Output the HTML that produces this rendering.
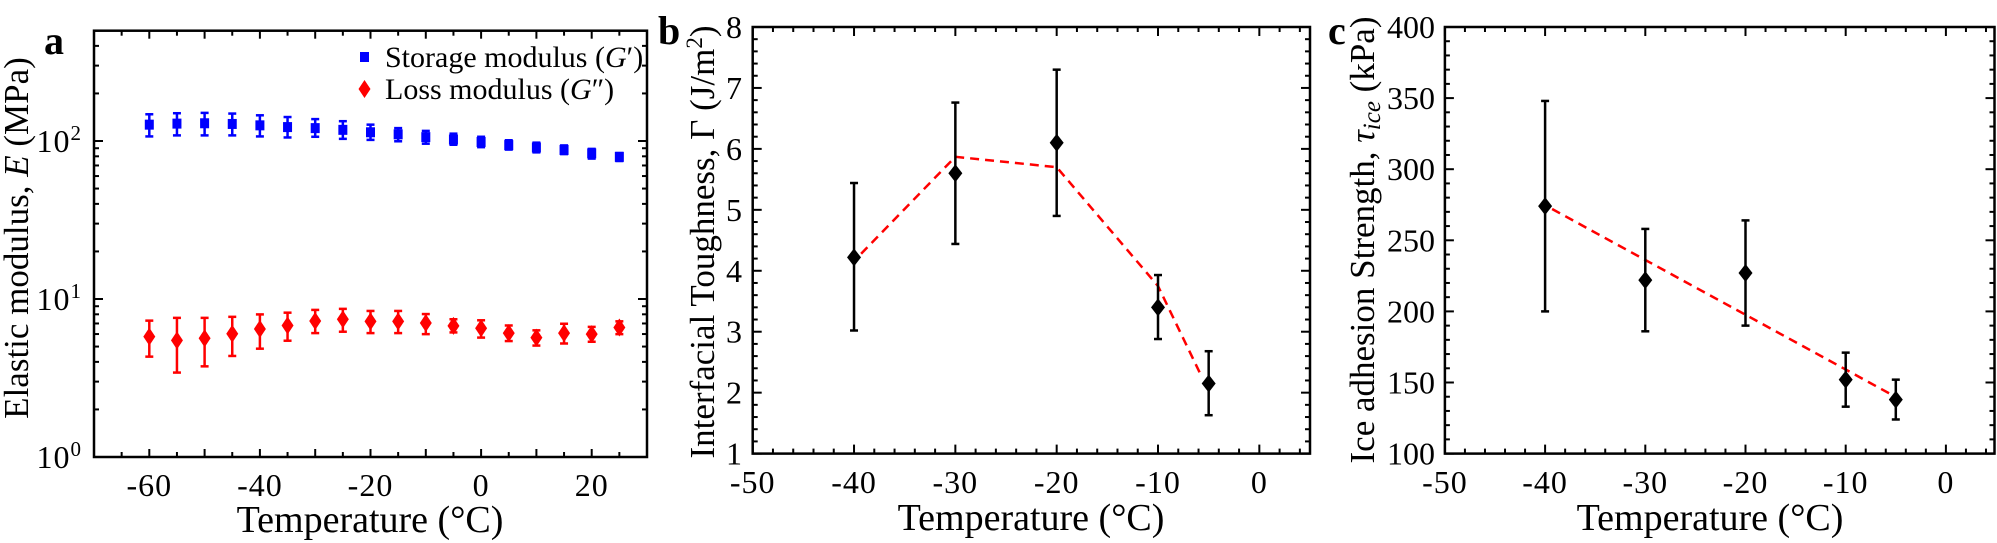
<!DOCTYPE html>
<html><head><meta charset="utf-8"><style>
html,body{margin:0;padding:0;background:#fff;}
svg{display:block;font-family:"Liberation Serif",serif;}
</style></head><body>
<svg id="s" width="1997" height="543" xmlns="http://www.w3.org/2000/svg"></svg>
<script>
var s=document.getElementById('s'),out='';
function ln(x1,y1,x2,y2,c,w,extra){out+='<line x1="'+x1+'" y1="'+y1+'" x2="'+x2+'" y2="'+y2+'" stroke="'+(c||'#000')+'" stroke-width="'+(w||2)+'" '+(extra||'')+'/>';}
function tx(x,y,t,sz,anc,extra){out+='<text x="'+x+'" y="'+y+'" font-size="'+sz+'" text-anchor="'+(anc||'middle')+'" '+(extra||'')+'>'+t+'</text>';}
function dia(x,y,w,h,c){out+='<polygon points="'+x+','+(y-h/2)+' '+(x+w/2)+','+y+' '+x+','+(y+h/2)+' '+(x-w/2)+','+y+'" fill="'+c+'"/>';}
function ebar(x,y1,y2,c,cap){ln(x,y1,x,y2,c,2.5);ln(x-cap,y1,x+cap,y1,c,2.5);ln(x-cap,y2,x+cap,y2,c,2.5);}
function box(L,T,R,B){out+='<rect x="'+L+'" y="'+T+'" width="'+(R-L)+'" height="'+(B-T)+'" fill="none" stroke="#000" stroke-width="2.5"/>';}
function xt(L,T,R,B,px,len){ln(px,B,px,B-len,'#000',2);ln(px,T,px,T+len,'#000',2);}
function yt(L,T,R,B,py,len){ln(L,py,L+len,py,'#000',2);ln(R,py,R-len,py,'#000',2);}
var TS=32,TL='letter-spacing="1"';

// ---------- Panel a ----------
(function(){
var L=94,T=30.7,R=647,B=457;
function X(v){return L+(v+70)*(R-L)/100;}
var d0=457,dec=158;
function Y(v){return d0-Math.log10(v)*dec;}
box(L,T,R,B);
for(var v=-65;v<=25;v+=5){xt(L,T,R,B,X(v),v%10==0?8:5);}
[-60,-40,-20,0,20].forEach(function(v){tx(X(v),496,v,TS,'middle',TL);});
for(var e=0;e<3;e++){for(var m=1;m<10;m++){var val=m*Math.pow(10,e);if(Math.log10(val)>2.7)break;yt(L,T,R,B,Y(val),m==1?9:5);}}
tx(82,468,'10<tspan dy="-12" font-size="21">0</tspan>',TS,'end',TL);
tx(82,310,'10<tspan dy="-12" font-size="21">1</tspan>',TS,'end',TL);
tx(82,152,'10<tspan dy="-12" font-size="21">2</tspan>',TS,'end',TL);
var sy=function(zy){return zy/2.888;};
var Gp=[[360,330,394],[357,327,391],[356,326,391],[358,328,391],[362,333,394],[367,338,397],[370,344,395],[375,350,401],[382,360,404],[388,370,408],[396,378,415],[403,386,418],[410,395,425],[419,405,432],[426,412,440],[433,420,445],[443,430,458],[453,442,465]];
var Gpp=[[972,926,1030],[983,918,1076],[977,918,1058],[964,915,1028],[950,908,1007],[940,903,984],[927,895,962],[922,892,958],[928,898,962],[928,898,962],[933,907,965],[941,922,960],[948,925,975],[962,940,985],[975,954,998],[962,935,992],[965,944,987],[946,928,965]];
for(var i=0;i<18;i++){var t=-60+5*i,x=X(t);
 var g=Gp[i];ebar(x,sy(g[1]),sy(g[2]),'#0000ff',4);out+='<rect x="'+(x-4.5)+'" y="'+(sy(g[0])-5)+'" width="9" height="10" fill="#0000ff"/>';
 g=Gpp[i];ebar(x,sy(g[1]),sy(g[2]),'#ff0000',4);dia(x,sy(g[0]),12,18,'#ff0000');}
out+='<rect x="360" y="52" width="9" height="10" fill="#0000ff"/>';
tx(385,67,'Storage modulus (<tspan font-style="italic">G</tspan>′)',30,'start');
dia(364.5,89,12,18,'#ff0000');
tx(385,99,'Loss modulus (<tspan font-style="italic">G</tspan>″)',30,'start');
tx(370,532,'Temperature (°C)',38);
tx(0,0,'Elastic modulus, <tspan font-style="italic">E</tspan> (MPa)',35,'middle','transform="translate(28,238) rotate(-90)"');
tx(44,54,'a',40,'start','font-weight="bold"');
})();

// ---------- Panel b ----------
(function(){
var L=752.7,T=27,R=1310,B=453.6;
function X(v){return L+(v+50)*(R-L)/55;}
function Y(v){return B-(v-1)*(B-T)/7;}
box(L,T,R,B);
for(var v=-50;v<=4;v+=2){xt(L,T,R,B,X(v),v%10==0?9:5);}
for(var v=1;v<=8.001;v+=0.2){var r=Math.round(v*10)/10;yt(L,T,R,B,Y(r),Math.abs(r-Math.round(r))<0.01?9:5);}
[-50,-40,-30,-20,-10,0].forEach(function(v){tx(X(v),493,v,TS,'middle',TL);});
for(var k=1;k<=8;k++)tx(742,Y(k)+11,k,TS,'end');
var pts=[[-39.3,4.28],[-30,5.87],[-20,5.7],[-10,3.75],[-5.8,2.3]];
out+='<polyline points="'+pts.map(function(p){return X(p[0])+','+Y(p[1]);}).join(' ')+'" fill="none" stroke="#ff0000" stroke-width="2.5" stroke-dasharray="9,6"/>';
[[-40,4.22,3.02,5.44],[-30,5.6,4.44,6.76],[-20,6.1,4.9,7.3],[-10,3.4,2.88,3.93],[-5,2.15,1.63,2.68]].forEach(function(d){var x=X(d[0]);ebar(x,Y(d[2]),Y(d[3]),'#000',4);dia(x,Y(d[1]),14,18,'#000');});
tx(1031,530,'Temperature (°C)',38);
tx(0,0,'Interfacial Toughness, Γ (J/m<tspan dy="-12" font-size="23">2</tspan><tspan dy="12">)</tspan>',35,'middle','transform="translate(714,242) rotate(-90)"');
tx(658,44,'b',40,'start','font-weight="bold"');
})();

// ---------- Panel c ----------
(function(){
var L=1444.9,T=27,R=1996,B=453.6;
function X(v){return L+(v+50)*(R-L)/55;}
function Y(v){return B-(v-100)*(B-T)/300;}
box(L,T,R-1.5,B);
for(var v=-50;v<=4;v+=2){xt(L,T,R-1.5,B,X(v),v%10==0?9:5);}
for(var v=100;v<=400;v+=10){yt(L,T,R-1.5,B,Y(v),v%50==0?9:5);}
[-50,-40,-30,-20,-10,0].forEach(function(v){tx(X(v),493,v,TS,'middle',TL);});
for(var k=100;k<=400;k+=50)tx(1435,Y(k)+11,k,TS,'end');
out+='<polyline points="'+X(-39.3)+','+Y(272)+' '+X(-5.3)+','+Y(141)+'" fill="none" stroke="#ff0000" stroke-width="2.5" stroke-dasharray="9,6"/>';
[[-40,274,200,348],[-30,222,186,258],[-20,227,190,264],[-10,152,133,171],[-5,138,124,152]].forEach(function(d){var x=X(d[0]);ebar(x,Y(d[2]),Y(d[3]),'#000',4);dia(x,Y(d[1]),14,18,'#000');});
tx(1710,530,'Temperature (°C)',38);
tx(0,0,'Ice adhesion Strength, <tspan font-style="italic">τ</tspan><tspan font-style="italic" font-size="25" dy="6">ice</tspan><tspan dy="-6"> (kPa)</tspan>',35,'middle','transform="translate(1374,240) rotate(-90)"');
tx(1328,44,'c',40,'start','font-weight="bold"');
})();
s.innerHTML=out;
</script>
</body></html>
